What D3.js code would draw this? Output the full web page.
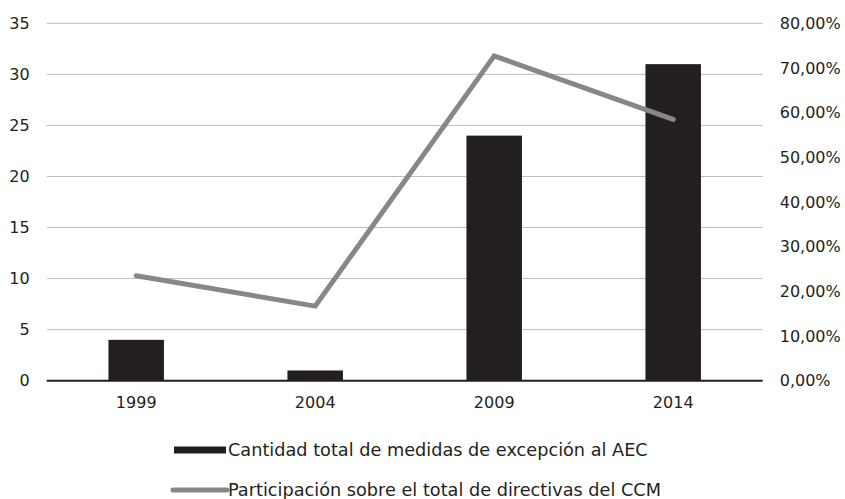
<!DOCTYPE html>
<html>
<head>
<meta charset="utf-8">
<script src="https://cdn.jsdelivr.net/npm/d3@7"></script>
<style>
  html, body { margin: 0; padding: 0; background: #fff; }
  svg text { font-family: "DejaVu Sans", sans-serif; fill: #231f20; }
</style>
</head>
<body>
<svg id="chart" width="845" height="499"></svg>
<script>
// Years on the category axis
const years = ["1999", "2004", "2009", "2014"];
// Total number of exception measures to the common external tariff (bars, left axis)
const medidas = [4, 1, 24, 31];
// Share of all CCM directives (line, right axis, percent)
const participacion = [23.5, 16.7, 72.7, 58.5];
// Axis ticks
const leftTicks = [0, 5, 10, 15, 20, 25, 30, 35];
const rightTicks = [0, 10, 20, 30, 40, 50, 60, 70, 80];
// Legend entries
const legendLabels = [
  "Cantidad total de medidas de excepción al AEC",
  "Participación sobre el total de directivas del CCM"
];

const svg = d3.select("#chart");
const margin = { left: 46.7, right: 762.7, top: 23.3, bottom: 380.7 };

const x = d3.scaleBand()
  .domain(years)
  .range([margin.left, margin.right])
  .paddingInner(0.69)
  .paddingOuter(0.345);

const yLeft = d3.scaleLinear().domain([0, 35]).range([margin.bottom, margin.top]);
const yRight = d3.scaleLinear().domain([0, 80]).range([margin.bottom, margin.top]);

const fmtPct = v => d3.format(".2f")(v).replace(".", ",") + "%";

// Horizontal gridlines
svg.append("g")
  .selectAll("line")
  .data(leftTicks.filter(t => t > 0))
  .join("line")
  .attr("x1", margin.left)
  .attr("x2", margin.right)
  .attr("y1", d => yLeft(d))
  .attr("y2", d => yLeft(d))
  .attr("stroke", "#bcbcbc")
  .attr("stroke-width", 1);

// Left axis
const gL = svg.append("g")
  .attr("transform", `translate(${margin.left},0)`)
  .call(d3.axisLeft(yLeft).tickValues(leftTicks).tickSize(0).tickPadding(17));
gL.select(".domain").remove();
gL.selectAll("text").style("font-size", "16px").attr("fill", "#231f20");

// Right axis
const gR = svg.append("g")
  .attr("transform", `translate(${margin.right},0)`)
  .call(d3.axisRight(yRight).tickValues(rightTicks).tickFormat(fmtPct).tickSize(0).tickPadding(17));
gR.select(".domain").remove();
gR.selectAll("text").style("font-size", "16px").attr("fill", "#231f20");

// Bars
svg.append("g")
  .selectAll("rect")
  .data(years.map((y, i) => ({ y, v: medidas[i] })))
  .join("rect")
  .attr("x", d => x(d.y))
  .attr("width", x.bandwidth())
  .attr("y", d => yLeft(d.v))
  .attr("height", d => yLeft(0) - yLeft(d.v))
  .attr("fill", "#231f20");

// Baseline
svg.append("line")
  .attr("x1", margin.left).attr("x2", margin.right)
  .attr("y1", yLeft(0)).attr("y2", yLeft(0))
  .attr("stroke", "#231f20").attr("stroke-width", 2);

// Bottom axis
const gB = svg.append("g")
  .attr("transform", `translate(0,${yLeft(0)})`)
  .call(d3.axisBottom(x).tickSize(0).tickPadding(16));
gB.select(".domain").remove();
gB.selectAll("text").style("font-size", "16px").attr("fill", "#231f20");

// Line series
const line = d3.line()
  .x((d, i) => x(years[i]) + x.bandwidth() / 2)
  .y(d => yRight(d));
svg.append("path")
  .datum(participacion)
  .attr("d", line)
  .attr("fill", "none")
  .attr("stroke", "#878787")
  .attr("stroke-width", 5)
  .attr("stroke-linejoin", "miter")
  .attr("stroke-linecap", "round");

// Legend
const lg = svg.append("g");
lg.append("rect")
  .attr("x", 174).attr("y", 446.5).attr("width", 52).attr("height", 7)
  .attr("fill", "#231f20");
lg.append("text")
  .attr("x", 228).attr("y", 450).attr("dy", "0.35em")
  .style("font-size", "17.7px")
  .text(legendLabels[0]);
lg.append("line")
  .attr("x1", 173).attr("x2", 227).attr("y1", 490).attr("y2", 490)
  .attr("stroke", "#878787").attr("stroke-width", 5).attr("stroke-linecap", "round");
lg.append("text")
  .attr("x", 228).attr("y", 490).attr("dy", "0.35em")
  .style("font-size", "17.7px")
  .text(legendLabels[1]);
</script>
</body>
</html>
